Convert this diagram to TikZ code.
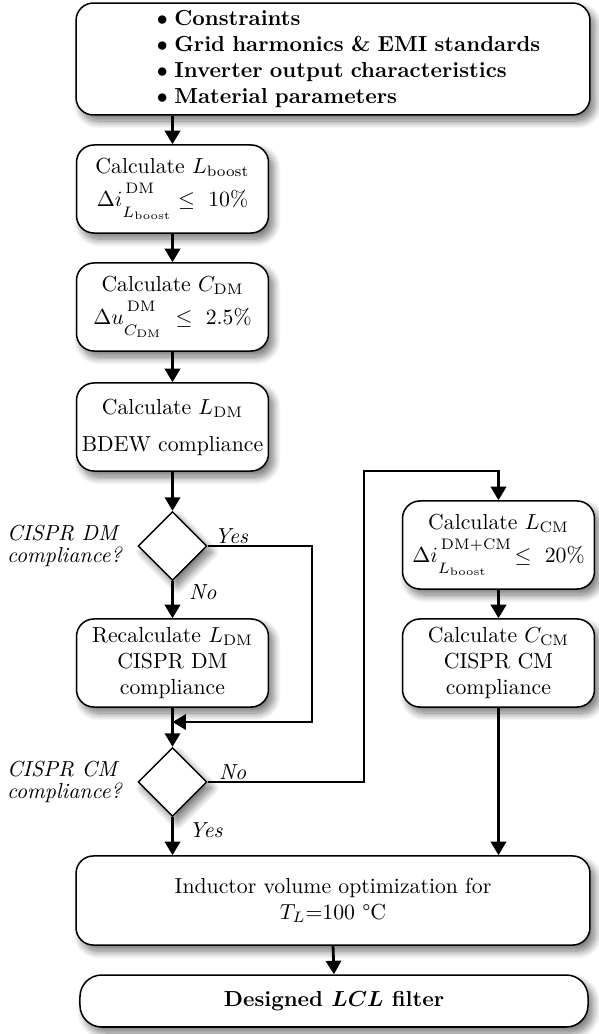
\documentclass[tikz,border=0pt]{standalone}
\usepackage{amsmath,amssymb}
\usetikzlibrary{arrows.meta,shapes.geometric,shadows.blur}
\newcommand{\supr}[1]{\raisebox{2.2pt}{$\scriptstyle\,#1$}}
\newcommand{\subr}[1]{\raisebox{-2.6pt}{$\scriptstyle #1$}}
\tikzset{
  shad/.style={blur shadow={shadow xshift=2.2pt,shadow yshift=-2.8pt,shadow blur radius=3.5pt,shadow blur steps=12,shadow opacity=55}},
  box/.style={draw,line width=0.7pt,rounded corners=8pt,fill=white,align=center,inner sep=2pt,
    minimum width=88.3pt,minimum height=40.5pt,shad},
  widebox/.style={box,minimum width=236.4pt,minimum height=41pt},
  dia/.style={draw,diamond,line width=0.7pt,fill=white,inner sep=0pt,minimum width=31.7pt,minimum height=31.7pt,shad},
  arr/.style={line width=1.3pt,-{Triangle[width=7pt,length=6.2pt]}},
  lbl/.style={font=\itshape,inner sep=0pt},
}
\begin{document}
\begin{tikzpicture}[x=0.46pt,y=-0.46pt]
\useasboundingbox (0,0) rectangle (598,1034);
% nodes
\node[box,minimum width=236.4pt,minimum height=51.5pt,text width=230pt,align=left] (top) at (333,59)
 {\hspace*{34pt}$\bullet$\hspace{3pt}\textbf{Constraints}\\
  \hspace*{34pt}$\bullet$\hspace{3pt}\textbf{Grid harmonics \& EMI standards}\\
  \hspace*{34pt}$\bullet$\hspace{3pt}\textbf{Inverter output characteristics}\\
  \hspace*{34pt}$\bullet$\hspace{3pt}\textbf{Material parameters}};
\node[box] (b2) at (172.5,189) {Calculate $L_{\mathrm{boost}}$\\[2pt] $\Delta i^{\supr{\mathrm{DM}}}_{\subr{L_{\mathrm{boost}}}}\leq\ 10\%$};
\node[box] (b3) at (172.5,307) {Calculate $C_{\mathrm{DM}}$\\[2pt] $\Delta u^{\supr{\mathrm{DM}}}_{\subr{C_{\mathrm{DM}}}}\ \leq\ 2.5\%$};
\node[box] (b4) at (172.5,427) {Calculate $L_{\mathrm{DM}}$\\[5pt] BDEW compliance};
\node[dia] (d1) at (172.5,546) {};
\node[box] (b5) at (172.5,663) {Recalculate $L_{\mathrm{DM}}$\\ CISPR DM\\ compliance};
\node[dia] (d2) at (172.5,782) {};
\node[box] (b6) at (498.5,545) {Calculate $L_{\mathrm{CM}}$\\[2pt] $\Delta i^{\supr{\mathrm{DM+CM}}}_{\subr{L_{\mathrm{boost}}}}\!\leq\ 20\%$};
\node[box] (b7) at (498.5,663) {Calculate $C_{\mathrm{CM}}$\\ CISPR CM\\ compliance};
\node[widebox] (b8) at (333,900.5) {Inductor volume optimization for\\ $T_L$=100 \textdegree C};
\node[widebox,minimum width=233.7pt,minimum height=23.9pt,rounded corners=10pt] (b9) at (334,1001) {\textbf{Designed $\boldsymbol{LCL}$ filter}};
% labels
\node[lbl,anchor=east,align=left,xshift=-7pt] (q1) at (d1.west) {CISPR DM\\[-1.5pt]compliance?};
\node[lbl,anchor=east,align=left,xshift=-7pt] (q2) at (d2.west) {CISPR CM\\[-1.5pt]compliance?};
\node[lbl,anchor=south west,xshift=3pt,yshift=1pt] (y1) at (d1.east) {Yes};
\node[lbl,anchor=south west,xshift=5pt,yshift=1pt] (n2) at (d2.east) {No};
% connectors
\coordinate (yc) at (312,722);
\coordinate (jn) at (172.5,722);
\coordinate (nc) at (364,471);
\draw[arr] (b2.north |- top.south) -- (b2.north);
\draw[arr] (b2.south) -- (b3.north);
\draw[arr] (b3.south) -- (b4.north);
\draw[arr] (b4.south) -- (d1.north);
\draw[arr] (d1.south) -- node[lbl,pos=0.3,anchor=west,xshift=7pt] (n1) {No} (b5.north);
\draw[arr] (b5.south) -- (d2.north);
\draw[arr] (d1.east) -| (yc) -- (jn);
\draw[arr] (d2.east) -| (nc) -| (b6.north);
\draw[arr] (b6.south) -- (b7.north);
\draw[arr] (b7.south) -- (b7.south |- b8.north);
\draw[arr] (d2.south) -- node[lbl,pos=0.35,anchor=west,xshift=7pt] (y2) {Yes} (d2.south |- b8.north);
\draw[arr] (b8.south) -- (b9.north);
\end{tikzpicture}
\end{document}
